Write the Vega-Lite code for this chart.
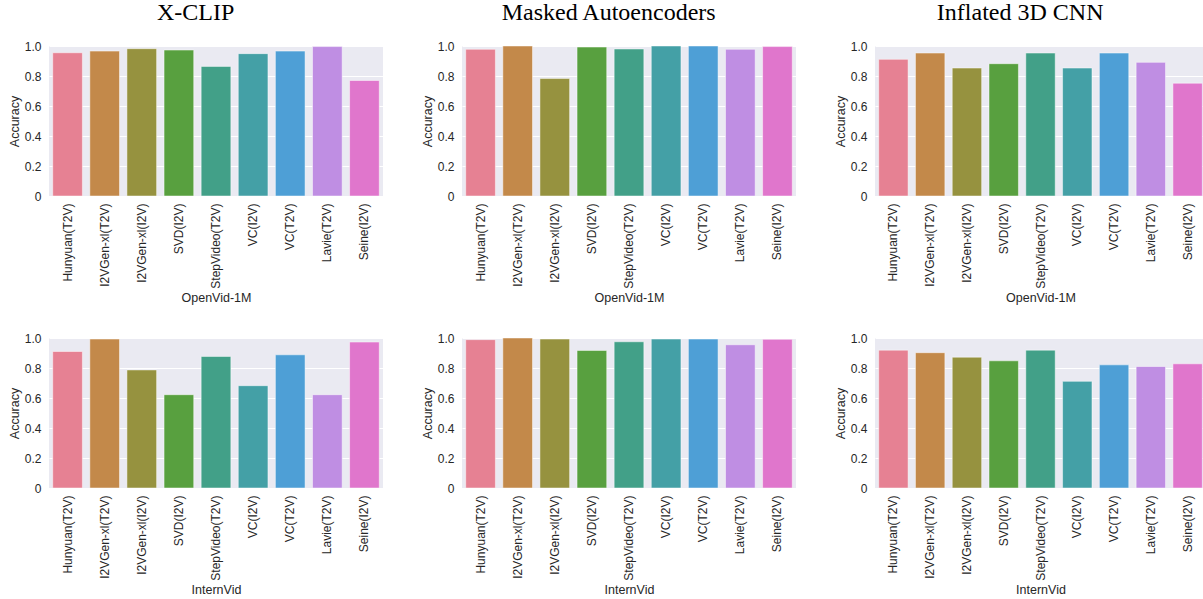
{
  "$schema": "https://vega.github.io/schema/vega-lite/v6.json",
  "padding": {"left": 8, "top": 1, "right": 0, "bottom": 0},
  "background": "white",
  "spacing": 28,
  "config": {
    "view": {"fill": "#EAEAF2", "stroke": null},
    "font": "Liberation Sans",
    "axis": {
      "domain": false,
      "ticks": false,
      "grid": true,
      "gridColor": "#ffffff",
      "gridWidth": 1.2,
      "labelFont": "Liberation Sans",
      "labelFontSize": 12,
      "labelColor": "#262626",
      "titleFont": "Liberation Sans",
      "titleFontSize": 12.5,
      "titleFontWeight": "normal",
      "titleColor": "#262626"
    },
    "axisX": {"grid": false, "labelAngle": -90, "labelPadding": 7, "titlePadding": 3},
    "axisY": {"labelPadding": 8, "titlePadding": 3},
    "title": {"font": "Liberation Serif", "fontSize": 24, "fontWeight": "normal", "color": "#000000", "frame": "bounds", "anchor": "middle", "offset": 15},
    "bar": {"stroke": "#ffffff", "strokeWidth": 0.8, "strokeOpacity": 0.6}
  },
  "datasets": {
    "acc": [
      {"model": "X-CLIP", "set": "OpenVid-1M", "gen": "Hunyuan(T2V)", "acc": 0.955},
      {"model": "X-CLIP", "set": "OpenVid-1M", "gen": "I2VGen-xl(T2V)", "acc": 0.966},
      {"model": "X-CLIP", "set": "OpenVid-1M", "gen": "I2VGen-xl(I2V)", "acc": 0.982},
      {"model": "X-CLIP", "set": "OpenVid-1M", "gen": "SVD(I2V)", "acc": 0.973},
      {"model": "X-CLIP", "set": "OpenVid-1M", "gen": "StepVideo(T2V)", "acc": 0.864},
      {"model": "X-CLIP", "set": "OpenVid-1M", "gen": "VC(I2V)", "acc": 0.949},
      {"model": "X-CLIP", "set": "OpenVid-1M", "gen": "VC(T2V)", "acc": 0.966},
      {"model": "X-CLIP", "set": "OpenVid-1M", "gen": "Lavie(T2V)", "acc": 0.996},
      {"model": "X-CLIP", "set": "OpenVid-1M", "gen": "Seine(I2V)", "acc": 0.770},
      {"model": "MAE", "set": "OpenVid-1M", "gen": "Hunyuan(T2V)", "acc": 0.978},
      {"model": "MAE", "set": "OpenVid-1M", "gen": "I2VGen-xl(T2V)", "acc": 1.0},
      {"model": "MAE", "set": "OpenVid-1M", "gen": "I2VGen-xl(I2V)", "acc": 0.783},
      {"model": "MAE", "set": "OpenVid-1M", "gen": "SVD(I2V)", "acc": 0.993},
      {"model": "MAE", "set": "OpenVid-1M", "gen": "StepVideo(T2V)", "acc": 0.980},
      {"model": "MAE", "set": "OpenVid-1M", "gen": "VC(I2V)", "acc": 1.0},
      {"model": "MAE", "set": "OpenVid-1M", "gen": "VC(T2V)", "acc": 1.0},
      {"model": "MAE", "set": "OpenVid-1M", "gen": "Lavie(T2V)", "acc": 0.978},
      {"model": "MAE", "set": "OpenVid-1M", "gen": "Seine(I2V)", "acc": 0.996},
      {"model": "I3D", "set": "OpenVid-1M", "gen": "Hunyuan(T2V)", "acc": 0.911},
      {"model": "I3D", "set": "OpenVid-1M", "gen": "I2VGen-xl(T2V)", "acc": 0.953},
      {"model": "I3D", "set": "OpenVid-1M", "gen": "I2VGen-xl(I2V)", "acc": 0.853},
      {"model": "I3D", "set": "OpenVid-1M", "gen": "SVD(I2V)", "acc": 0.882},
      {"model": "I3D", "set": "OpenVid-1M", "gen": "StepVideo(T2V)", "acc": 0.953},
      {"model": "I3D", "set": "OpenVid-1M", "gen": "VC(I2V)", "acc": 0.853},
      {"model": "I3D", "set": "OpenVid-1M", "gen": "VC(T2V)", "acc": 0.953},
      {"model": "I3D", "set": "OpenVid-1M", "gen": "Lavie(T2V)", "acc": 0.891},
      {"model": "I3D", "set": "OpenVid-1M", "gen": "Seine(I2V)", "acc": 0.752},
      {"model": "X-CLIP", "set": "InternVid", "gen": "Hunyuan(T2V)", "acc": 0.910},
      {"model": "X-CLIP", "set": "InternVid", "gen": "I2VGen-xl(T2V)", "acc": 0.993},
      {"model": "X-CLIP", "set": "InternVid", "gen": "I2VGen-xl(I2V)", "acc": 0.787},
      {"model": "X-CLIP", "set": "InternVid", "gen": "SVD(I2V)", "acc": 0.622},
      {"model": "X-CLIP", "set": "InternVid", "gen": "StepVideo(T2V)", "acc": 0.877},
      {"model": "X-CLIP", "set": "InternVid", "gen": "VC(I2V)", "acc": 0.682},
      {"model": "X-CLIP", "set": "InternVid", "gen": "VC(T2V)", "acc": 0.888},
      {"model": "X-CLIP", "set": "InternVid", "gen": "Lavie(T2V)", "acc": 0.622},
      {"model": "X-CLIP", "set": "InternVid", "gen": "Seine(I2V)", "acc": 0.973},
      {"model": "MAE", "set": "InternVid", "gen": "Hunyuan(T2V)", "acc": 0.989},
      {"model": "MAE", "set": "InternVid", "gen": "I2VGen-xl(T2V)", "acc": 1.0},
      {"model": "MAE", "set": "InternVid", "gen": "I2VGen-xl(I2V)", "acc": 0.993},
      {"model": "MAE", "set": "InternVid", "gen": "SVD(I2V)", "acc": 0.917},
      {"model": "MAE", "set": "InternVid", "gen": "StepVideo(T2V)", "acc": 0.975},
      {"model": "MAE", "set": "InternVid", "gen": "VC(I2V)", "acc": 0.993},
      {"model": "MAE", "set": "InternVid", "gen": "VC(T2V)", "acc": 0.993},
      {"model": "MAE", "set": "InternVid", "gen": "Lavie(T2V)", "acc": 0.955},
      {"model": "MAE", "set": "InternVid", "gen": "Seine(I2V)", "acc": 0.991},
      {"model": "I3D", "set": "InternVid", "gen": "Hunyuan(T2V)", "acc": 0.919},
      {"model": "I3D", "set": "InternVid", "gen": "I2VGen-xl(T2V)", "acc": 0.902},
      {"model": "I3D", "set": "InternVid", "gen": "I2VGen-xl(I2V)", "acc": 0.872},
      {"model": "I3D", "set": "InternVid", "gen": "SVD(I2V)", "acc": 0.848},
      {"model": "I3D", "set": "InternVid", "gen": "StepVideo(T2V)", "acc": 0.919},
      {"model": "I3D", "set": "InternVid", "gen": "VC(I2V)", "acc": 0.711},
      {"model": "I3D", "set": "InternVid", "gen": "VC(T2V)", "acc": 0.821},
      {"model": "I3D", "set": "InternVid", "gen": "Lavie(T2V)", "acc": 0.810},
      {"model": "I3D", "set": "InternVid", "gen": "Seine(I2V)", "acc": 0.828}
    ]
  },
  "vconcat": [
    {
      "spacing": 38,
      "hconcat": [
        {
          "width": 334, "height": 150,
          "title": "X-CLIP",
          "data": {"name": "acc"},
          "transform": [{"filter": "datum.model == 'X-CLIP' && datum.set == 'OpenVid-1M'"}],
          "mark": "bar",
          "encoding": {
            "x": {"field": "gen", "type": "nominal", "sort": ["Hunyuan(T2V)","I2VGen-xl(T2V)","I2VGen-xl(I2V)","SVD(I2V)","StepVideo(T2V)","VC(I2V)","VC(T2V)","Lavie(T2V)","Seine(I2V)"], "title": "OpenVid-1M", "scale": {"paddingInner": 0.2, "paddingOuter": 0.1}},
            "y": {"field": "acc", "type": "quantitative", "title": "Accuracy", "scale": {"domain": [0, 1]}, "axis": {"values": [0, 0.2, 0.4, 0.6, 0.8, 1.0], "labelExpr": "datum.value == 0 ? '0' : format(datum.value, '.1f')"}},
            "color": {"field": "gen", "type": "nominal", "legend": null, "scale": {"domain": ["Hunyuan(T2V)","I2VGen-xl(T2V)","I2VGen-xl(I2V)","SVD(I2V)","StepVideo(T2V)","VC(I2V)","VC(T2V)","Lavie(T2V)","Seine(I2V)"], "range": ["#e68193","#c3894a","#96923f","#58a03f","#42a088","#44a0a6","#4e9fd6","#bf8ee3","#e076cc"]}}
          }
        },
        {
          "width": 334, "height": 150,
          "title": "Masked Autoencoders",
          "data": {"name": "acc"},
          "transform": [{"filter": "datum.model == 'MAE' && datum.set == 'OpenVid-1M'"}],
          "mark": "bar",
          "encoding": {
            "x": {"field": "gen", "type": "nominal", "sort": ["Hunyuan(T2V)","I2VGen-xl(T2V)","I2VGen-xl(I2V)","SVD(I2V)","StepVideo(T2V)","VC(I2V)","VC(T2V)","Lavie(T2V)","Seine(I2V)"], "title": "OpenVid-1M", "scale": {"paddingInner": 0.2, "paddingOuter": 0.1}},
            "y": {"field": "acc", "type": "quantitative", "title": "Accuracy", "scale": {"domain": [0, 1]}, "axis": {"values": [0, 0.2, 0.4, 0.6, 0.8, 1.0], "labelExpr": "datum.value == 0 ? '0' : format(datum.value, '.1f')"}},
            "color": {"field": "gen", "type": "nominal", "legend": null, "scale": {"domain": ["Hunyuan(T2V)","I2VGen-xl(T2V)","I2VGen-xl(I2V)","SVD(I2V)","StepVideo(T2V)","VC(I2V)","VC(T2V)","Lavie(T2V)","Seine(I2V)"], "range": ["#e68193","#c3894a","#96923f","#58a03f","#42a088","#44a0a6","#4e9fd6","#bf8ee3","#e076cc"]}}
          }
        },
        {
          "width": 331, "height": 150,
          "title": "Inflated 3D CNN",
          "data": {"name": "acc"},
          "transform": [{"filter": "datum.model == 'I3D' && datum.set == 'OpenVid-1M'"}],
          "mark": "bar",
          "encoding": {
            "x": {"field": "gen", "type": "nominal", "sort": ["Hunyuan(T2V)","I2VGen-xl(T2V)","I2VGen-xl(I2V)","SVD(I2V)","StepVideo(T2V)","VC(I2V)","VC(T2V)","Lavie(T2V)","Seine(I2V)"], "title": "OpenVid-1M", "scale": {"paddingInner": 0.2, "paddingOuter": 0.1}},
            "y": {"field": "acc", "type": "quantitative", "title": "Accuracy", "scale": {"domain": [0, 1]}, "axis": {"values": [0, 0.2, 0.4, 0.6, 0.8, 1.0], "labelExpr": "datum.value == 0 ? '0' : format(datum.value, '.1f')"}},
            "color": {"field": "gen", "type": "nominal", "legend": null, "scale": {"domain": ["Hunyuan(T2V)","I2VGen-xl(T2V)","I2VGen-xl(I2V)","SVD(I2V)","StepVideo(T2V)","VC(I2V)","VC(T2V)","Lavie(T2V)","Seine(I2V)"], "range": ["#e68193","#c3894a","#96923f","#58a03f","#42a088","#44a0a6","#4e9fd6","#bf8ee3","#e076cc"]}}
          }
        }
      ]
    },
    {
      "spacing": 38,
      "hconcat": [
        {
          "width": 334, "height": 150,
          "data": {"name": "acc"},
          "transform": [{"filter": "datum.model == 'X-CLIP' && datum.set == 'InternVid'"}],
          "mark": "bar",
          "encoding": {
            "x": {"field": "gen", "type": "nominal", "sort": ["Hunyuan(T2V)","I2VGen-xl(T2V)","I2VGen-xl(I2V)","SVD(I2V)","StepVideo(T2V)","VC(I2V)","VC(T2V)","Lavie(T2V)","Seine(I2V)"], "title": "InternVid", "scale": {"paddingInner": 0.2, "paddingOuter": 0.1}},
            "y": {"field": "acc", "type": "quantitative", "title": "Accuracy", "scale": {"domain": [0, 1]}, "axis": {"values": [0, 0.2, 0.4, 0.6, 0.8, 1.0], "labelExpr": "datum.value == 0 ? '0' : format(datum.value, '.1f')"}},
            "color": {"field": "gen", "type": "nominal", "legend": null, "scale": {"domain": ["Hunyuan(T2V)","I2VGen-xl(T2V)","I2VGen-xl(I2V)","SVD(I2V)","StepVideo(T2V)","VC(I2V)","VC(T2V)","Lavie(T2V)","Seine(I2V)"], "range": ["#e68193","#c3894a","#96923f","#58a03f","#42a088","#44a0a6","#4e9fd6","#bf8ee3","#e076cc"]}}
          }
        },
        {
          "width": 334, "height": 150,
          "data": {"name": "acc"},
          "transform": [{"filter": "datum.model == 'MAE' && datum.set == 'InternVid'"}],
          "mark": "bar",
          "encoding": {
            "x": {"field": "gen", "type": "nominal", "sort": ["Hunyuan(T2V)","I2VGen-xl(T2V)","I2VGen-xl(I2V)","SVD(I2V)","StepVideo(T2V)","VC(I2V)","VC(T2V)","Lavie(T2V)","Seine(I2V)"], "title": "InternVid", "scale": {"paddingInner": 0.2, "paddingOuter": 0.1}},
            "y": {"field": "acc", "type": "quantitative", "title": "Accuracy", "scale": {"domain": [0, 1]}, "axis": {"values": [0, 0.2, 0.4, 0.6, 0.8, 1.0], "labelExpr": "datum.value == 0 ? '0' : format(datum.value, '.1f')"}},
            "color": {"field": "gen", "type": "nominal", "legend": null, "scale": {"domain": ["Hunyuan(T2V)","I2VGen-xl(T2V)","I2VGen-xl(I2V)","SVD(I2V)","StepVideo(T2V)","VC(I2V)","VC(T2V)","Lavie(T2V)","Seine(I2V)"], "range": ["#e68193","#c3894a","#96923f","#58a03f","#42a088","#44a0a6","#4e9fd6","#bf8ee3","#e076cc"]}}
          }
        },
        {
          "width": 331, "height": 150,
          "data": {"name": "acc"},
          "transform": [{"filter": "datum.model == 'I3D' && datum.set == 'InternVid'"}],
          "mark": "bar",
          "encoding": {
            "x": {"field": "gen", "type": "nominal", "sort": ["Hunyuan(T2V)","I2VGen-xl(T2V)","I2VGen-xl(I2V)","SVD(I2V)","StepVideo(T2V)","VC(I2V)","VC(T2V)","Lavie(T2V)","Seine(I2V)"], "title": "InternVid", "scale": {"paddingInner": 0.2, "paddingOuter": 0.1}},
            "y": {"field": "acc", "type": "quantitative", "title": "Accuracy", "scale": {"domain": [0, 1]}, "axis": {"values": [0, 0.2, 0.4, 0.6, 0.8, 1.0], "labelExpr": "datum.value == 0 ? '0' : format(datum.value, '.1f')"}},
            "color": {"field": "gen", "type": "nominal", "legend": null, "scale": {"domain": ["Hunyuan(T2V)","I2VGen-xl(T2V)","I2VGen-xl(I2V)","SVD(I2V)","StepVideo(T2V)","VC(I2V)","VC(T2V)","Lavie(T2V)","Seine(I2V)"], "range": ["#e68193","#c3894a","#96923f","#58a03f","#42a088","#44a0a6","#4e9fd6","#bf8ee3","#e076cc"]}}
          }
        }
      ]
    }
  ]
}
